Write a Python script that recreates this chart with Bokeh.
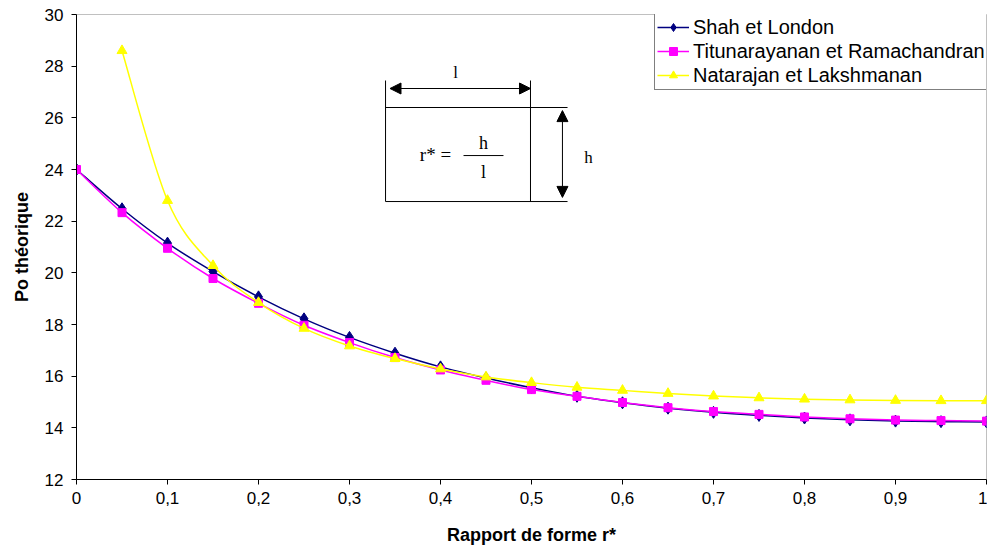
from bokeh.plotting import figure
from bokeh.models import (FixedTicker, CustomJSTickFormatter, Legend, LegendItem, Range1d,
                          Arrow, NormalHead, Label, ColumnDataSource)
from bokeh.embed import file_html
from bokeh.resources import INLINE

# ---- data ----
r_values = [0.0, 0.05, 0.1, 0.15, 0.2, 0.25, 0.3, 0.35, 0.4, 0.45, 0.5,
            0.55, 0.6, 0.65, 0.7, 0.75, 0.8, 0.85, 0.9, 0.95, 1.0]
shah_london = [24.0, 22.48, 21.15, 20.05, 19.07, 18.22, 17.50, 16.89, 16.36, 15.93, 15.55,
               15.22, 14.97, 14.76, 14.60, 14.48, 14.38, 14.31, 14.26, 14.24, 14.23]
titunarayanan = [24.0, 22.33, 20.95, 19.78, 18.82, 17.97, 17.30, 16.72, 16.24, 15.84, 15.48,
                 15.22, 14.98, 14.78, 14.63, 14.52, 14.42, 14.35, 14.30, 14.28, 14.26]
r_natarajan = [0.05, 0.1, 0.15, 0.2, 0.25, 0.3, 0.35, 0.4, 0.45, 0.5,
               0.55, 0.6, 0.65, 0.7, 0.75, 0.8, 0.85, 0.9, 0.95, 1.0]
natarajan = [28.6, 22.8, 20.28, 18.85, 17.85, 17.17, 16.68, 16.28, 15.97, 15.75,
             15.57, 15.45, 15.33, 15.23, 15.16, 15.11, 15.08, 15.06, 15.05, 15.05]
series_names = ["Shah et London", "Titunarayanan et Ramachandran", "Natarajan et Lakshmanan"]
x_ticks = [0, 0.1, 0.2, 0.3, 0.4, 0.5, 0.6, 0.7, 0.8, 0.9, 1.0]
y_ticks = [12, 14, 16, 18, 20, 22, 24, 26, 28, 30]

FONT = "Liberation Sans"
SERIF = "Liberation Serif"


def smooth_source(xs, ys):
    """Bezier segments through the data points (Excel-style smoothed line)."""
    n = len(xs)
    d = dict(x0=[], y0=[], x1=[], y1=[], cx0=[], cy0=[], cx1=[], cy1=[])
    for i in range(n - 1):
        ip = max(i - 1, 0)
        inx = min(i + 2, n - 1)
        d["x0"].append(xs[i]); d["y0"].append(ys[i])
        d["x1"].append(xs[i + 1]); d["y1"].append(ys[i + 1])
        d["cx0"].append(xs[i] + (xs[i + 1] - xs[ip]) / 6.0)
        d["cy0"].append(ys[i] + (ys[i + 1] - ys[ip]) / 6.0)
        d["cx1"].append(xs[i + 1] - (xs[inx] - xs[i]) / 6.0)
        d["cy1"].append(ys[i + 1] - (ys[inx] - ys[i]) / 6.0)
    return ColumnDataSource(d)


p = figure(width=987, height=547, output_backend="svg", toolbar_location=None,
           x_range=Range1d(0, 1), y_range=Range1d(12, 30),
           min_border_left=76, min_border_right=1, min_border_top=14, min_border_bottom=68)
p.background_fill_color = "white"
p.border_fill_color = "white"
p.outline_line_color = "#c0c0c0"
p.xgrid.visible = False
p.ygrid.visible = False

styles = [
    ("#000080", "diamond", 12),
    ("#FF00FF", "square", 8),
    ("#FFFF00", "triangle", 10),
]
data = [(r_values, shah_london), (r_values, titunarayanan), (r_natarajan, natarajan)]

items = []
for name, (xs, ys), (col, mk, sz) in zip(series_names, data, styles):
    bz = p.bezier(x0="x0", y0="y0", x1="x1", y1="y1", cx0="cx0", cy0="cy0",
                  cx1="cx1", cy1="cy1", source=smooth_source(xs, ys),
                  line_color=col, line_width=1.5)
    sc = p.scatter(x=xs, y=ys, marker=mk, size=sz, fill_color=col, line_color=col)
    items.append(LegendItem(label=name, renderers=[bz, sc]))

# axes
for ax in (p.xaxis[0], p.yaxis[0]):
    ax.axis_line_color = "black"
    ax.axis_line_width = 1
    ax.major_tick_line_color = "black"
    ax.major_tick_out = 5
    ax.major_tick_in = 0
    ax.minor_tick_line_color = None
    ax.major_label_text_font = FONT
    ax.major_label_text_font_size = "17px"
    ax.major_label_text_color = "black"
    ax.axis_label_text_font = FONT
    ax.axis_label_text_font_size = "18px"
    ax.axis_label_text_font_style = "bold"
    ax.axis_label_text_color = "black"

p.xaxis.ticker = FixedTicker(ticks=x_ticks)
p.xaxis.formatter = CustomJSTickFormatter(
    code="var s = tick.toFixed(1).replace('.', ','); return s.endsWith(',0') ? s.slice(0, -2) : s;")
p.xaxis.axis_label = "Rapport de forme r*"
p.xaxis.major_label_standoff = 7
p.xaxis.axis_label_standoff = 18

p.yaxis.ticker = FixedTicker(ticks=y_ticks)
p.yaxis.axis_label = "Po théorique"
p.yaxis.major_label_standoff = 8
p.yaxis.axis_label_standoff = 10

legend = Legend(items=items, location=(578, 389),
                label_text_font=FONT, label_text_font_size="20px", label_text_color="black",
                border_line_color="black", border_line_width=1,
                background_fill_color="white", background_fill_alpha=1.0,
                padding=2, spacing=0, label_height=24, glyph_height=20, glyph_width=32,
                label_standoff=4, margin=0)
p.add_layout(legend)

# ---- inset diagram (annotation positions in data units) ----
box_l, box_r, box_ext = 0.3396, 0.4989, 0.5396
top_y, bot_y, vert_top = 26.40, 22.76, 27.445
p.segment(x0=[box_l, box_r, box_l, box_l, 0.4253],
          y0=[vert_top, vert_top, top_y, bot_y, 24.54],
          x1=[box_l, box_r, box_ext, box_ext, 0.4692],
          y1=[bot_y, bot_y, top_y, bot_y, 24.54],
          line_color="black", line_width=1)

p.add_layout(Arrow(x_start=0.3445, y_start=27.135, x_end=0.4989, y_end=27.135,
                   line_color="black", line_width=1,
                   start=NormalHead(size=11, fill_color="black", line_color="black"),
                   end=NormalHead(size=11, fill_color="black", line_color="black")))
p.add_layout(Arrow(x_start=0.534, y_start=22.92, x_end=0.534, y_end=26.28,
                   line_color="black", line_width=1,
                   start=NormalHead(size=11, fill_color="black", line_color="black"),
                   end=NormalHead(size=11, fill_color="black", line_color="black")))

for x, y, t, fs in [(0.4165, 27.75, "l", "17px"), (0.5626, 24.46, "h", "17px"),
                    (0.3945, 24.58, "r* =", "19px"),
                    (0.4473, 25.02, "h", "18px"), (0.4473, 23.90, "l", "18px")]:
    p.add_layout(Label(x=x, y=y, text=t, text_font=SERIF, text_font_size=fs,
                       text_align="center", text_baseline="middle", text_color="black"))

open("out.html", "w").write(file_html(p, INLINE))
